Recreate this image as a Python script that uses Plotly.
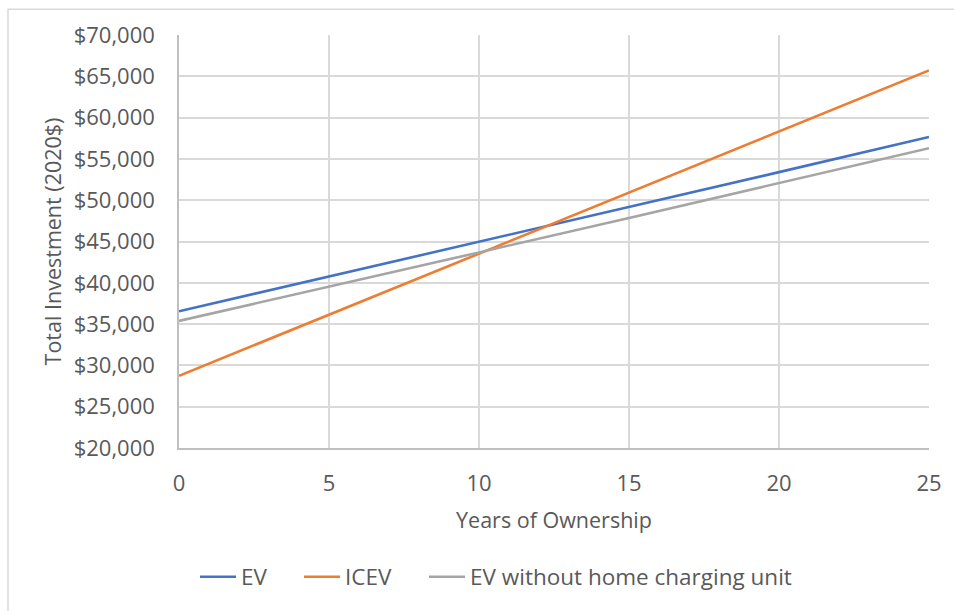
import plotly.graph_objects as go

# Cumulative cost of ownership (2020 dollars) by years owned
years = [0, 5, 10, 15, 20, 25]
ev = [36550, 40750, 45000, 49200, 53400, 57650]
icev = [28740, 36140, 43520, 50970, 58340, 65710]
ev_no_home_charger = [35385, 39500, 43680, 47850, 52090, 56300]

series = [
    ("EV", ev, "#4472C4"),
    ("ICEV", icev, "#ED7D31"),
    ("EV without home charging unit", ev_no_home_charger, "#A5A5A5"),
]

y_ticks = list(range(20000, 70001, 5000))
y_tick_text = [f"${v:,}" for v in y_ticks]

font_family = "Open Sans, Liberation Sans, sans-serif"
text_color = "#595959"
grid_color = "#d9d9d9"
tick_fs = 22
title_fs = 21.5
legend_fs = 22.5

# Plot area in pixels: x 179..929, y 35..451
PX_L, PX_W, PX_B, PX_H = 179, 750, 451, 416


def px_to_paper_x(px):
    return (px - PX_L) / PX_W


def px_to_paper_y(py):
    return (PX_B - py) / PX_H


legend_names = ["legend", "legend2", "legend3"]
legend_left_px = [195, 299, 424]

fig = go.Figure()
for (name, values, color), lg in zip(series, legend_names):
    fig.add_trace(go.Scatter(
        x=years, y=values, mode="lines", name=name,
        line=dict(color=color, width=2.6), legend=lg,
    ))

legend_common = dict(
    orientation="h", yanchor="middle", y=px_to_paper_y(581), xanchor="left",
    font=dict(size=legend_fs, color=text_color), itemwidth=36,
    bgcolor="rgba(0,0,0,0)",
)

layout_legends = {
    lg: dict(legend_common, x=px_to_paper_x(xp))
    for lg, xp in zip(legend_names, legend_left_px)
}

fig.update_layout(
    width=954, height=611,
    margin=dict(l=PX_L, r=954 - PX_L - PX_W, t=35, b=611 - PX_B),
    paper_bgcolor="white", plot_bgcolor="white",
    font=dict(family=font_family, color=text_color, size=tick_fs),
    showlegend=True,
    shapes=[dict(
        type="rect", xref="paper", yref="paper",
        x0=px_to_paper_x(8), x1=px_to_paper_x(980),
        y0=px_to_paper_y(640), y1=px_to_paper_y(9),
        line=dict(color=grid_color, width=1.5), fillcolor="rgba(0,0,0,0)",
        layer="below",
    )],
    **layout_legends,
)

fig.update_xaxes(
    range=[0, 25], tickvals=[0, 5, 10, 15, 20, 25],
    showgrid=True, gridcolor=grid_color, gridwidth=1.5,
    showline=True, linecolor="#bfbfbf", linewidth=1.5,
    zeroline=False, ticks="", ticklabelstandoff=15,
    tickfont=dict(size=tick_fs, color=text_color),
    title=dict(text="Years of Ownership", font=dict(size=title_fs, color=text_color), standoff=17),
)
fig.update_yaxes(
    range=[20000, 70000], tickvals=y_ticks, ticktext=y_tick_text,
    showgrid=True, gridcolor=grid_color, gridwidth=1.5,
    showline=True, linecolor="#bfbfbf", linewidth=1.5,
    zeroline=False, ticks="", ticklabelstandoff=18,
    tickfont=dict(size=tick_fs, color=text_color),
    title=dict(text="Total Investment (2020$)", font=dict(size=title_fs, color=text_color), standoff=6),
)

fig.write_html("out.html")
